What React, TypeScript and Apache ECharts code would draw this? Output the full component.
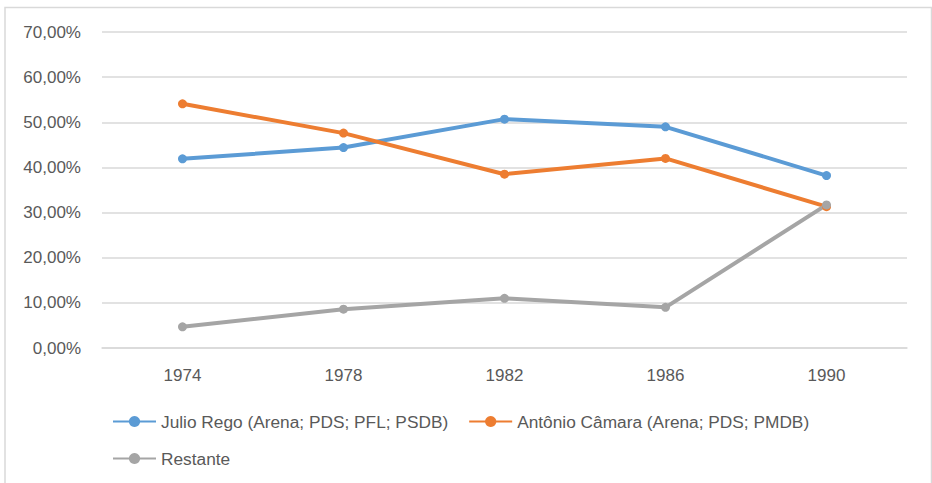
import React, { useEffect, useRef } from "react";
import * as echarts from "echarts";

const categories = ["1974", "1978", "1982", "1986", "1990"];
const julioRego = [0.419, 0.444, 0.507, 0.49, 0.382];
const antonioCamara = [0.541, 0.476, 0.385, 0.42, 0.313];
const restante = [0.047, 0.086, 0.11, 0.09, 0.317];
const seriesNames = [
  "Julio Rego (Arena; PDS; PFL; PSDB)",
  "Antônio Câmara (Arena; PDS; PMDB)",
  "Restante",
];
const colors = ["#5B9BD5", "#ED7D31", "#A5A5A5"];

const FONT = "'Liberation Sans', Arial, sans-serif";
const TEXT = "#595959";

export default function App() {
  const ref = useRef<HTMLDivElement>(null);
  useEffect(() => {
    document.body.style.margin = "0";
    const chart = echarts.init(ref.current!, null, { renderer: "svg" });
    const datas = [julioRego, antonioCamara, restante];
    chart.setOption({
      animation: false,
      backgroundColor: "#ffffff",
      color: colors,
      textStyle: { fontFamily: FONT, color: TEXT },
      graphic: [
        {
          type: "rect",
          shape: { x: 5, y: 7.5, width: 926.5, height: 500 },
          style: { fill: "none", stroke: "#d9d9d9", lineWidth: 1.5 },
          silent: true,
        },
      ],
      grid: { left: 102, right: 25, top: 32, bottom: 135 },
      xAxis: {
        type: "category",
        data: categories,
        boundaryGap: true,
        axisLine: { show: true, lineStyle: { color: "#d9d9d9", width: 1.5 } },
        axisTick: { show: false },
        axisLabel: { color: TEXT, fontSize: 17, fontFamily: FONT, margin: 19 },
      },
      yAxis: {
        type: "value",
        min: 0,
        max: 0.7,
        interval: 0.1,
        axisLine: { show: false },
        axisTick: { show: false },
        splitLine: { lineStyle: { color: "#d9d9d9", width: 1.5 } },
        axisLabel: {
          color: TEXT,
          fontSize: 17,
          fontFamily: FONT,
          margin: 21,
          formatter: (v: number) =>
            (v * 100).toFixed(2).replace(".", ",") + "%",
        },
      },
      legend: [
        {
          data: [seriesNames[0], seriesNames[1]],
          left: 107,
          top: 408,
          itemWidth: 43,
          itemHeight: 14,
          itemGap: 20,
          textStyle: { color: TEXT, fontSize: 17.3, fontFamily: FONT },
        },
        {
          data: [seriesNames[2]],
          left: 107,
          top: 445,
          itemWidth: 43,
          itemHeight: 14,
          textStyle: { color: TEXT, fontSize: 17.3, fontFamily: FONT },
        },
      ],
      series: datas.map((d, i) => ({
        name: seriesNames[i],
        type: "line",
        data: d,
        symbol: "circle",
        symbolSize: 9,
        lineStyle: { width: 4, color: colors[i] },
        itemStyle: { color: colors[i] },
      })),
    });
    return () => chart.dispose();
  }, []);
  return <div ref={ref} style={{ width: 932, height: 483 }} />;
}
